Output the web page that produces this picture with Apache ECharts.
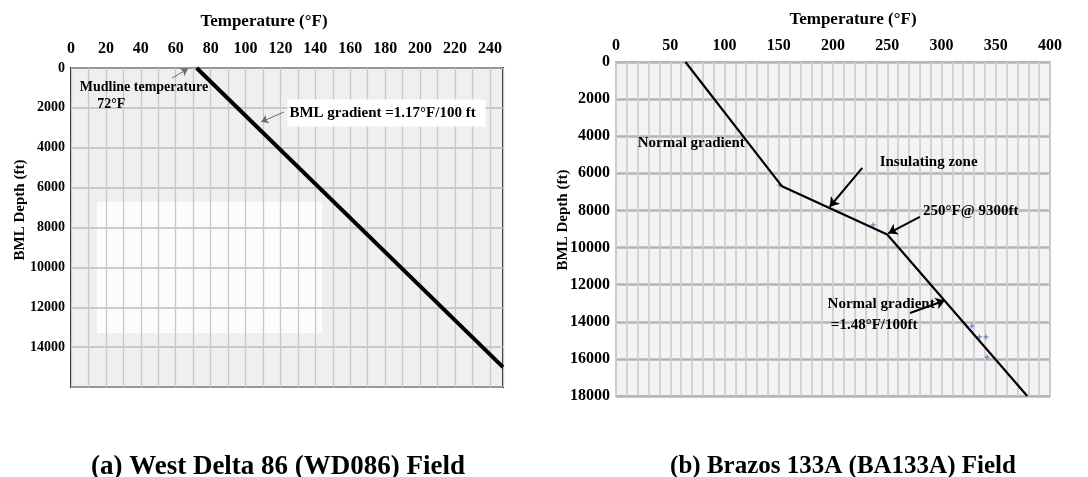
<!DOCTYPE html>
<html>
<head>
<meta charset="utf-8">
<script src="https://cdn.jsdelivr.net/npm/echarts@6/dist/echarts.min.js"></script>
<style>
  html, body { margin: 0; padding: 0; background: #ffffff; }
  #main { width: 1088px; height: 477px; }
</style>
</head>
<body>
<div id="main"></div>
<script>
// West Delta 86 (WD086): one gradient from the mudline down
const wdTemp = [72, 247.5];
const wdDepth = [0, 15000];

// Brazos 133A (BA133A): normal gradient, insulating zone, normal gradient
const baTemp = [64, 153, 250, 379];
const baDepth = [0, 6700, 9300, 18000];

// scattered readings plotted beside the Brazos profile
const baObsTemp = [151, 237, 328, 335, 341, 342];
const baObsDepth = [6630, 8780, 14230, 14820, 14820, 15900];

// tick labels
const wdTempLabels = [0, 20, 40, 60, 80, 100, 120, 140, 160, 180, 200, 220, 240];
const wdDepthLabels = [0, 2000, 4000, 6000, 8000, 10000, 12000, 14000];
const baTempLabels = [0, 50, 100, 150, 200, 250, 300, 350, 400];
const baDepthLabels = [0, 2000, 4000, 6000, 8000, 10000, 12000, 14000, 16000, 18000];

// annotation texts and the data points they sit at / point to
const wdNotes = [
  { text: 'Mudline temperature', at: [5, 950] },
  { text: '72°F', at: [15, 1850] },
  { text: 'BML gradient =1.17°F/100 ft', at: [124, 2260], boxed: true, size: 15 }
];
const wdArrows = [
  { from: [58, 500], to: [67, 40] },
  { from: [122, 2210], to: [109, 2700] }
];
const baNotes = [
  { text: 'Normal gradient', at: [20, 4370] },
  { text: 'Insulating zone', at: [243, 5390] },
  { text: '250°F@ 9300ft', at: [283, 8030] },
  { text: 'Normal gradient', at: [195, 13040] },
  { text: '=1.48°F/100ft', at: [198, 14170] }
];
const baArrows = [
  { from: [227, 5710], to: [197, 7800] },
  { from: [280, 8350], to: [251, 9230] },
  { from: [271, 13530], to: [303, 12850] }
];

const SERIF = '"Liberation Serif", "DejaVu Serif", serif';

const gridA = { left: 71, top: 68, width: 432, height: 319 };
const gridB = { left: 616, top: 62, width: 434, height: 334 };

const zip = (xs, ys) => xs.map((x, i) => [x, ys[i]]);
const pick = list => v => (list.indexOf(Math.round(v * 1000) / 1000) >= 0 ? String(v) : '');

function notePoints(notes) {
  return notes.map(n => {
    const label = { formatter: n.text };
    if (n.size) label.fontSize = n.size;
    if (n.boxed) { label.backgroundColor = '#ffffff'; label.padding = [6, 10, 6, 2]; }
    return { coord: n.at, label: label };
  });
}
function arrowLines(arrows) {
  return arrows.map(a => [{ coord: a.from }, { coord: a.to }]);
}

const chart = echarts.init(document.getElementById('main'), null, { renderer: 'canvas' });

const tickText = size => ({
  color: '#000', fontFamily: SERIF, fontWeight: 'bold', fontSize: size
});
const titleText = (text, x, y, size, extra) => Object.assign({
  type: 'text', x: x, y: y,
  style: { text: text, fill: '#000', font: 'bold ' + size + 'px ' + SERIF, textAlign: 'center', textVerticalAlign: 'middle' }
}, extra || {});

chart.setOption({
  animation: false,
  backgroundColor: '#ffffff',
  graphic: [
    // plot backgrounds
    { type: 'rect', z: -5, shape: { x: gridA.left, y: gridA.top, width: gridA.width, height: gridA.height }, style: { fill: '#efefef' } },
    { type: 'rect', z: -4, shape: { x: 97, y: 202, width: 225, height: 131 }, style: { fill: '#fcfcfc' } },
    { type: 'rect', z: -5, shape: { x: gridB.left, y: gridB.top, width: gridB.width, height: gridB.height }, style: { fill: '#f3f3f3' } },
    // axis titles
    titleText('Temperature (°F)', 264, 22, 17),
    titleText('Temperature (°F)', 853, 20, 17),
    titleText('BML Depth (ft)', 20, 210, 15, { rotation: Math.PI / 2 }),
    titleText('BML Depth (ft)', 563, 220, 15, { rotation: Math.PI / 2 }),
    // panel captions
    titleText('(a) West Delta 86 (WD086) Field', 278, 467, 27),
    titleText('(b) Brazos 133A (BA133A) Field', 843, 467, 25)
  ],
  grid: [
    Object.assign({ show: true, backgroundColor: 'transparent', borderColor: '#2a2a2a', borderWidth: 2 }, gridA),
    Object.assign({ show: true, backgroundColor: 'transparent', borderColor: '#c4c4c4', borderWidth: 2 }, gridB)
  ],
  xAxis: [
    {
      gridIndex: 0, type: 'value', position: 'top', min: 0, max: 247.5, interval: 10,
      axisLine: { show: false }, axisTick: { show: false },
      axisLabel: Object.assign(tickText(16), { margin: 11, formatter: pick(wdTempLabels) }),
      splitLine: { show: true, lineStyle: { color: '#c8c8c8', width: 1.3 } }
    },
    {
      gridIndex: 1, type: 'value', position: 'top', min: 0, max: 400, interval: 10,
      axisLine: { show: false }, axisTick: { show: false },
      axisLabel: Object.assign(tickText(16), { margin: 8, formatter: pick(baTempLabels) }),
      splitLine: { show: true, lineStyle: { color: '#cdcdcd', width: 1.7 } }
    }
  ],
  yAxis: [
    {
      gridIndex: 0, type: 'value', inverse: true, min: 0, max: 16000, interval: 2000,
      axisLine: { show: false }, axisTick: { show: false },
      axisLabel: Object.assign(tickText(14), { margin: 6, formatter: pick(wdDepthLabels) }),
      splitLine: { show: true, lineStyle: { color: '#bdbdbd', width: 1.5 } }
    },
    {
      gridIndex: 1, type: 'value', inverse: true, min: 0, max: 18000, interval: 2000,
      axisLine: { show: false }, axisTick: { show: false },
      axisLabel: Object.assign(tickText(16), { margin: 6, formatter: pick(baDepthLabels) }),
      splitLine: { show: true, lineStyle: { color: '#b4b4b4', width: 2.5 } }
    }
  ],
  series: [
    {
      name: 'WD086', type: 'line', xAxisIndex: 0, yAxisIndex: 0,
      data: zip(wdTemp, wdDepth), showSymbol: false, silent: true,
      lineStyle: { color: '#000', width: 4 },
      markPoint: {
        silent: true, symbol: 'circle', symbolSize: 0, itemStyle: { color: 'transparent' },
        label: { show: true, position: 'right', distance: 0, color: '#000', fontFamily: SERIF, fontWeight: 'bold', fontSize: 14 },
        data: notePoints(wdNotes)
      },
      markLine: {
        silent: true, symbol: ['none', 'arrow'], symbolSize: 7,
        label: { show: false },
        lineStyle: { color: '#6a6a6a', width: 1, type: 'solid' },
        data: arrowLines(wdArrows)
      }
    },
    {
      name: 'BA133A', type: 'line', xAxisIndex: 1, yAxisIndex: 1,
      data: zip(baTemp, baDepth), showSymbol: false, silent: true,
      lineStyle: { color: '#000', width: 2.2 },
      markPoint: {
        silent: true, symbol: 'circle', symbolSize: 0, itemStyle: { color: 'transparent' },
        label: { show: true, position: 'right', distance: 0, color: '#000', fontFamily: SERIF, fontWeight: 'bold', fontSize: 15 },
        data: notePoints(baNotes)
      },
      markLine: {
        silent: true, symbol: ['none', 'arrow'], symbolSize: 9,
        label: { show: false },
        lineStyle: { color: '#000', width: 2, type: 'solid' },
        data: arrowLines(baArrows)
      }
    },
    {
      name: 'BA133A readings', type: 'scatter', xAxisIndex: 1, yAxisIndex: 1,
      data: zip(baObsTemp, baObsDepth), silent: true,
      symbol: 'path://M3,0H5V3H8V5H5V8H3V5H0V3H3Z', symbolSize: 5,
      itemStyle: { color: '#4a6cc0', opacity: 0.8 }
    }
  ]
});
</script>
</body>
</html>
